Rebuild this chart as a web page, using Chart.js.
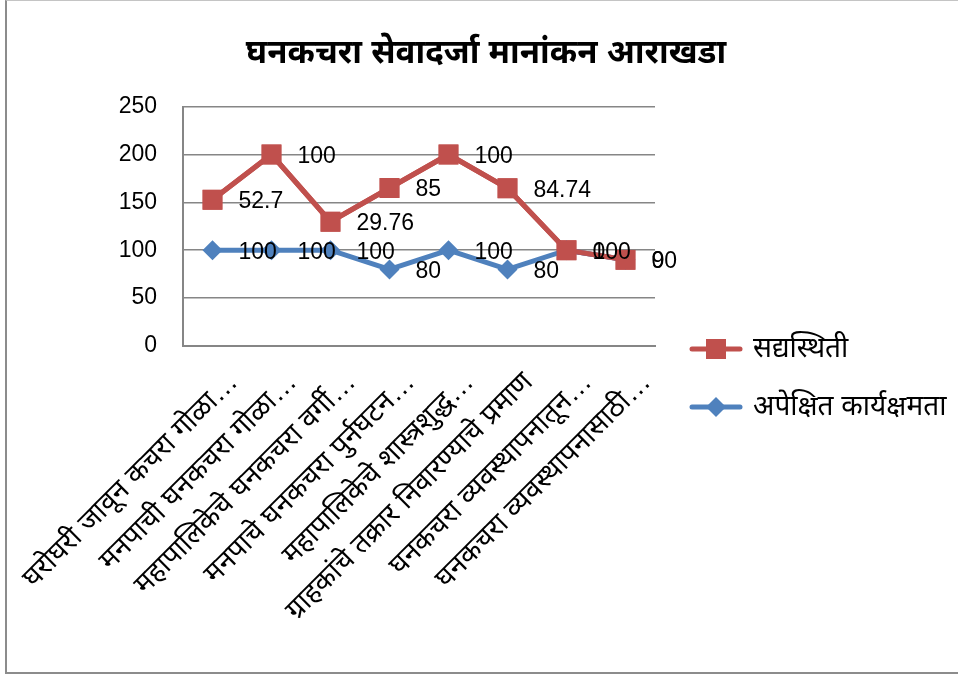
<!DOCTYPE html>
<html>
<head>
<meta charset="utf-8">
<script src="https://cdn.jsdelivr.net/npm/chart.js@4.4.1/dist/chart.umd.min.js"></script>
<style>
  html, body { margin: 0; padding: 0; background: #fff; overflow: hidden; }
  #frame {
    position: absolute; left: 5px; top: 0; width: 1000px; height: 674px;
    border-left: 2px solid #8c8c8c; border-bottom: 2px solid #8c8c8c; border-top: 1px solid #c4c4c4;
    box-sizing: border-box;
  }
  #wrap { position: absolute; left: 0; top: 0; width: 958px; height: 670px; }
</style>
</head>
<body>
<div id="frame"></div>
<div id="wrap"><canvas id="chart"></canvas></div>
<script>
const chartTitle = 'घनकचरा सेवादर्जा मानांकन आराखडा';
const categories = [
  'घरोघरी जावून कचरा गोळा…',
  'मनपाची घनकचरा गोळा…',
  'महापालिकेचे घनकचरा वर्गी…',
  'मनपाचे घनकचरा पुर्नघटन…',
  'महापालिकेचे शास्त्रशुद्ध…',
  'ग्राहकांचे तक्रार निवारण्याचे प्रमाण',
  'घनकचरा व्यवस्थापनातून…',
  'घनकचरा व्यवस्थापनासाठी…'
];
const expectedLabel = 'अपेक्षित कार्यक्षमता';
const expected = [100, 100, 100, 80, 100, 80, 100, 90];
const currentLabel = 'सद्यस्थिती';
const current = [52.7, 100, 29.76, 85, 100, 84.74, 0, 0];
const yTicks = [0, 50, 100, 150, 200, 250];

const BLUE = '#4f81bd';
const RED = '#c0504d';
const FONT = '"Liberation Sans", "Noto Sans", sans-serif';

// small legend icon: line with marker in the middle
function legendIcon(color, shape) {
  const c = document.createElement('canvas');
  c.width = 54; c.height = 24;
  const g = c.getContext('2d');
  g.strokeStyle = color;
  g.lineWidth = 5;
  g.lineCap = 'round';
  g.beginPath(); g.moveTo(3, 12); g.lineTo(51, 12); g.stroke();
  g.fillStyle = color;
  if (shape === 'rect') {
    g.fillRect(17, 2, 20, 20);
  } else {
    g.beginPath();
    g.moveTo(27, 2); g.lineTo(37, 12); g.lineTo(27, 22); g.lineTo(17, 12);
    g.closePath(); g.fill();
  }
  return c;
}
const icons = [legendIcon(BLUE, 'rectRot'), legendIcon(RED, 'rect')];

const layoutFix = {
  id: 'layoutFix',
  beforeLayout(chart) {
    const lg = chart.legend;
    if (lg && !lg._fixed) {
      const fit = lg.fit;
      lg.fit = function () { fit.call(this); this.width = 303; };
      lg._fixed = true;
    }
  },
  afterLayout(chart) {
    // push the legend list down and right, beside the middle of the plot
    chart.legend.top += 70;
    chart.legend.left += 8;
  }
};

const valueLabels = {
  id: 'valueLabels',
  afterDatasetsDraw(chart) {
    // red series sits on top in the reference
    chart.getDatasetMeta(1).controller.draw();
    const ctx = chart.ctx;
    ctx.save();
    ctx.font = '23px ' + FONT;
    ctx.fillStyle = '#000';
    ctx.textBaseline = 'middle';
    chart.data.datasets.forEach((ds, i) => {
      chart.getDatasetMeta(i).data.forEach((pt, j) => {
        ctx.fillText(String(ds.data[j]), pt.x + 26, pt.y + 2);
      });
    });
    ctx.restore();
  }
};

new Chart(document.getElementById('chart'), {
  type: 'line',
  data: {
    labels: categories,
    datasets: [
      {
        label: expectedLabel,
        data: expected,
        borderColor: BLUE,
        backgroundColor: BLUE,
        borderWidth: 5,
        pointStyle: 'rectRot',
        pointRadius: 10,
        pointBorderWidth: 0,
        tension: 0,
        fill: false
      },
      {
        label: currentLabel,
        data: current,
        borderColor: RED,
        backgroundColor: RED,
        borderWidth: 5,
        pointStyle: 'rect',
        pointRadius: 14,
        pointBorderWidth: 0,
        tension: 0,
        fill: false
      }
    ]
  },
  options: {
    responsive: true,
    maintainAspectRatio: false,
    animation: false,
    events: [],
    layout: { padding: { left: 14, right: 0, top: 26, bottom: 10 } },
    plugins: {
      title: {
        display: true,
        text: chartTitle,
        color: '#000',
        font: { family: FONT, size: 33, weight: 'bold' },
        padding: { top: 8, bottom: 33 }
      },
      legend: {
        position: 'right',
        reverse: true,
        labels: {
          usePointStyle: true,
          pointStyleWidth: 46,
          boxHeight: 22,
          padding: 30,
          color: '#000',
          font: { family: FONT, size: 28 },
          generateLabels(chart) {
            const items = Chart.defaults.plugins.legend.labels.generateLabels(chart);
            items.forEach(it => { it.pointStyle = icons[it.datasetIndex]; });
            return items;
          }
        }
      },
      tooltip: { enabled: false }
    },
    scales: {
      x: {
        offset: true,
        afterFit(axis) { axis.paddingLeft = 0; axis.paddingRight = 0; axis.height = 314; },
        grid: { display: false },
        border: { display: true, color: '#868686', width: 2 },
        ticks: {
          autoSkip: false,
          minRotation: 45,
          maxRotation: 45,
          labelOffset: 21,
          padding: 12,
          color: '#000',
          font: { family: FONT, size: 28 }
        }
      },
      y: {
        stacked: true,
        min: 0,
        max: 250,
        afterBuildTicks(axis) { axis.ticks = yTicks.map(v => ({ value: v })); },
        afterFit(axis) { axis.width = 169; },
        grid: { color: '#868686', lineWidth: 1.5, drawTicks: false },
        border: { display: true, color: '#868686', width: 2 },
        ticks: {
          padding: 26,
          color: '#000',
          font: { family: FONT, size: 23 }
        }
      }
    }
  },
  plugins: [layoutFix, valueLabels]
});
</script>
</body>
</html>
